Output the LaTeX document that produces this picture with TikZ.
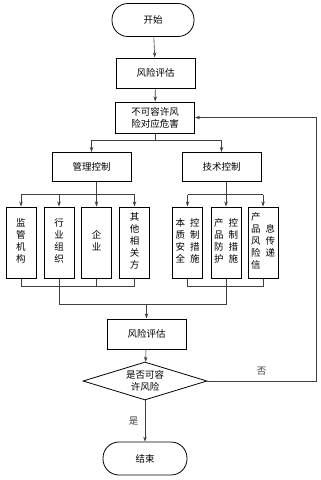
\documentclass[tikz,border=0pt]{standalone}
\usepackage{fontspec}
\newfontfamily\cjk{Noto Sans CJK SC}
\usetikzlibrary{arrows.meta, shapes.geometric, calc}
\newcommand{\vcol}[1]{\begin{tabular}[c]{@{}c@{}}#1\end{tabular}}

\begin{document}
\begin{tikzpicture}[x=1pt, y=-1pt, font=\cjk\fontsize{9.5}{12}\selectfont,
    >={Stealth[length=5pt, width=3.5pt]},
    box/.style={draw, line width=1pt, minimum width=79pt, minimum height=30pt, inner sep=1pt, align=center},
    tall/.style={draw, line width=1pt, minimum width=30pt, minimum height=71pt, inner sep=0pt},
    term/.style={draw, line width=0.8pt, rounded corners=16pt, minimum width=82pt, minimum height=33pt},
    decide/.style={draw, diamond, line width=0.8pt, aspect=3.26, inner sep=0pt,
      minimum width=124pt, minimum height=38pt, align=center},
    link/.style={black!75, line width=0.6pt}]
  \useasboundingbox (0,0) rectangle (321,480);
  % main column
  \node[term] (start) at (153,20) {开始};
  \node[box] (eval1) at (155.5,73) {风险评估};
  \node[box, minimum height=31pt] (hazard) at (155,117.5) {不可容许风\\险对应危害};
  \node[box, minimum height=29pt] (mgmt) at (91.5,167) {管理控制};
  \node[box, minimum height=29pt] (tech) at (221.5,167) {技术控制};
  % management measures
  \foreach \n/\x/\t in {sup/21/{监\\管\\机\\构}, ind/59/{行\\业\\组\\织},
      ent/96.5/{企\\业}, oth/134.5/{其\\他\\相\\关\\方}}{
    \node[tall] (\n) at (\x,242.5) {\vcol{\t}};
  }
  % technical measures
  \node[tall] (inh) at (187.5,242.5) {\vcol{本\\质\\安\\全}\hspace{5pt}\vcol{控\\制\\措\\施}};
  \node[tall] (prot) at (226,242.5) {\vcol{产\\品\\防\\护}\hspace{5pt}\vcol{控\\制\\措\\施}};
  \node[tall] (info) at (263,242.5) {\vcol{产\\品\\风\\险\\信}\hspace{5pt}\vcol{息\\传\\递}};
  \node[box] (eval2) at (146.5,334) {风险评估};
  \node[decide] (check) at (145,381) {是否可容\\许风险};
  \node[term, minimum width=84pt] (finish) at (145,458.5) {结束};
  % connectors
  \draw[link, ->] (start) -- (eval1);
  \draw[link, ->] (eval1) -- (hazard);
  \coordinate (split) at ($(hazard.south)+(0,7)$);
  \draw[link] (hazard.south) -- (split);
  \draw[link, ->] (split) -| (mgmt.north);
  \draw[link, ->] (split) -| (tech.north);
  \coordinate (lbus) at ($(mgmt.south -| ent.north)+(0,12.5)$);
  \coordinate (rbus) at ($(tech.south -| prot.north)+(0,12.5)$);
  \draw[link] (mgmt.south -| ent.north) -- (lbus);
  \draw[link] (tech.south -| prot.north) -- (rbus);
  \draw[link] (lbus -| sup.north) -- (lbus -| oth.north);
  \draw[link] (rbus -| inh.north) -- (rbus -| info.north);
  \foreach \n in {sup,ind,ent,oth}{
    \draw[link, ->] (lbus -| \n.north) -- (\n.north);
  }
  \foreach \n in {inh,prot,info}{
    \draw[link, ->] (rbus -| \n.north) -- (\n.north);
  }
  % gather both groups
  \coordinate (lbot) at ($(sup.south)+(0,8)$);
  \foreach \n in {sup,ind,ent,oth,inh,prot,info}{
    \draw[link] (\n.south) -- (\n.south |- lbot);
  }
  \draw[link] (lbot -| sup.south) -- (lbot -| oth.south);
  \draw[link] (lbot -| inh.south) -- (lbot -| info.south);
  \coordinate (join) at ($(ind.south)+(0,26)$);
  \draw[link] (lbot -| ind.south) -- (join -| ind.south) -- (join -| prot.south) -- (lbot -| prot.south);
  \draw[link, ->] (join -| eval2.north) -- (eval2.north);
  \draw[link, ->] (eval2) -- (check);
  \draw[link, ->] (check) -- node[left=3pt] {是} (finish);
  % back to hazards
  \coordinate (loop) at (316,117.5);
  \draw[link, ->] (check.east) -- node[above=2pt] {否} (check.east -| loop) -- (loop) -- (hazard.east);
\end{tikzpicture}
\end{document}
